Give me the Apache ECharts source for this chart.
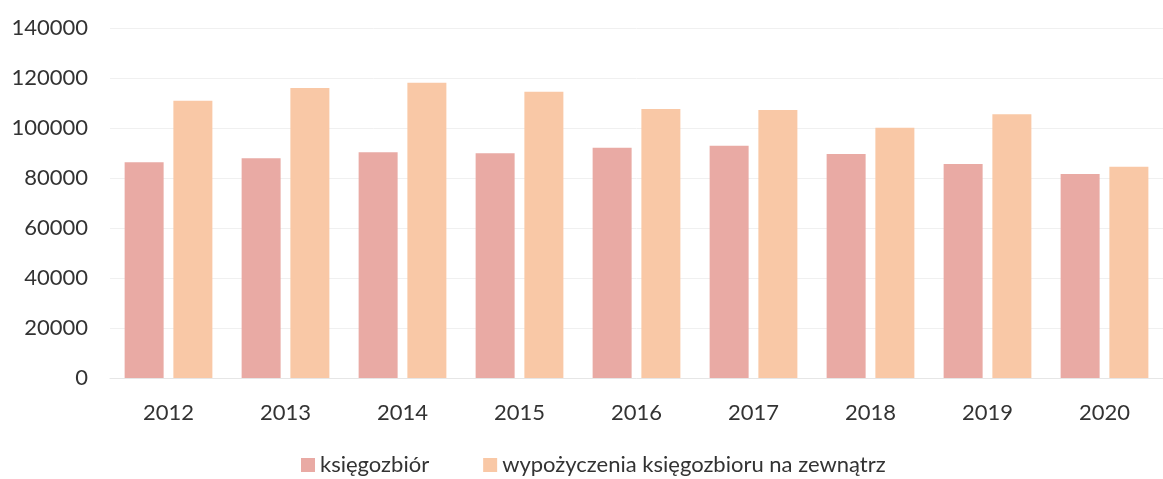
<!DOCTYPE html>
<html>
<head>
<meta charset="utf-8">
<script src="https://cdn.jsdelivr.net/npm/echarts@6/dist/echarts.min.js"></script>
<style>
  html, body { margin: 0; padding: 0; background: #fff; }
  #chart { width: 1163px; height: 479px; }
</style>
</head>
<body>
<div id="chart"></div>
<script>
const years = ['2012', '2013', '2014', '2015', '2016', '2017', '2018', '2019', '2020'];
const ksiegozbior = [86300, 87900, 90300, 89900, 92100, 92900, 89600, 85600, 81600];
const wypozyczenia = [110900, 116000, 118100, 114500, 107600, 107200, 100100, 105500, 84500];
const seriesNames = ['księgozbiór', 'wypożyczenia księgozbioru na zewnątrz'];

const chart = echarts.init(document.getElementById('chart'), null, { renderer: 'canvas' });
const font = 'Lato, "Open Sans", sans-serif';

chart.setOption({
  animation: false,
  textStyle: { fontFamily: font },
  grid: { left: 110, right: -17, top: 28, bottom: 101, containLabel: false },
  legend: {
    top: 449,
    left: 296,
    itemWidth: 14,
    itemHeight: 14,
    itemGap: 54,
    icon: 'rect',
    textStyle: { fontSize: 22, color: '#333', fontFamily: font },
    data: seriesNames
  },
  xAxis: {
    type: 'category',
    data: years,
    axisLine: { show: true, lineStyle: { color: '#e6e6e6', width: 1 } },
    axisTick: { show: false },
    axisLabel: { fontSize: 22, color: '#333', margin: 24, fontFamily: font }
  },
  yAxis: {
    type: 'value',
    min: 0,
    max: 140000,
    interval: 20000,
    axisLine: { show: false },
    axisTick: { show: false },
    splitLine: { lineStyle: { color: '#f0f0f0', width: 1 } },
    axisLabel: { fontSize: 22, color: '#333', margin: 22, fontFamily: font, formatter: v => String(v) }
  },
  series: [
    {
      name: seriesNames[0],
      type: 'bar',
      data: ksiegozbior,
      barWidth: 39,
      barGap: '25%',
      itemStyle: { color: '#E9AAA4' }
    },
    {
      name: seriesNames[1],
      type: 'bar',
      data: wypozyczenia,
      barWidth: 39,
      itemStyle: { color: '#F9C8A6' }
    }
  ]
});
</script>
</body>
</html>
